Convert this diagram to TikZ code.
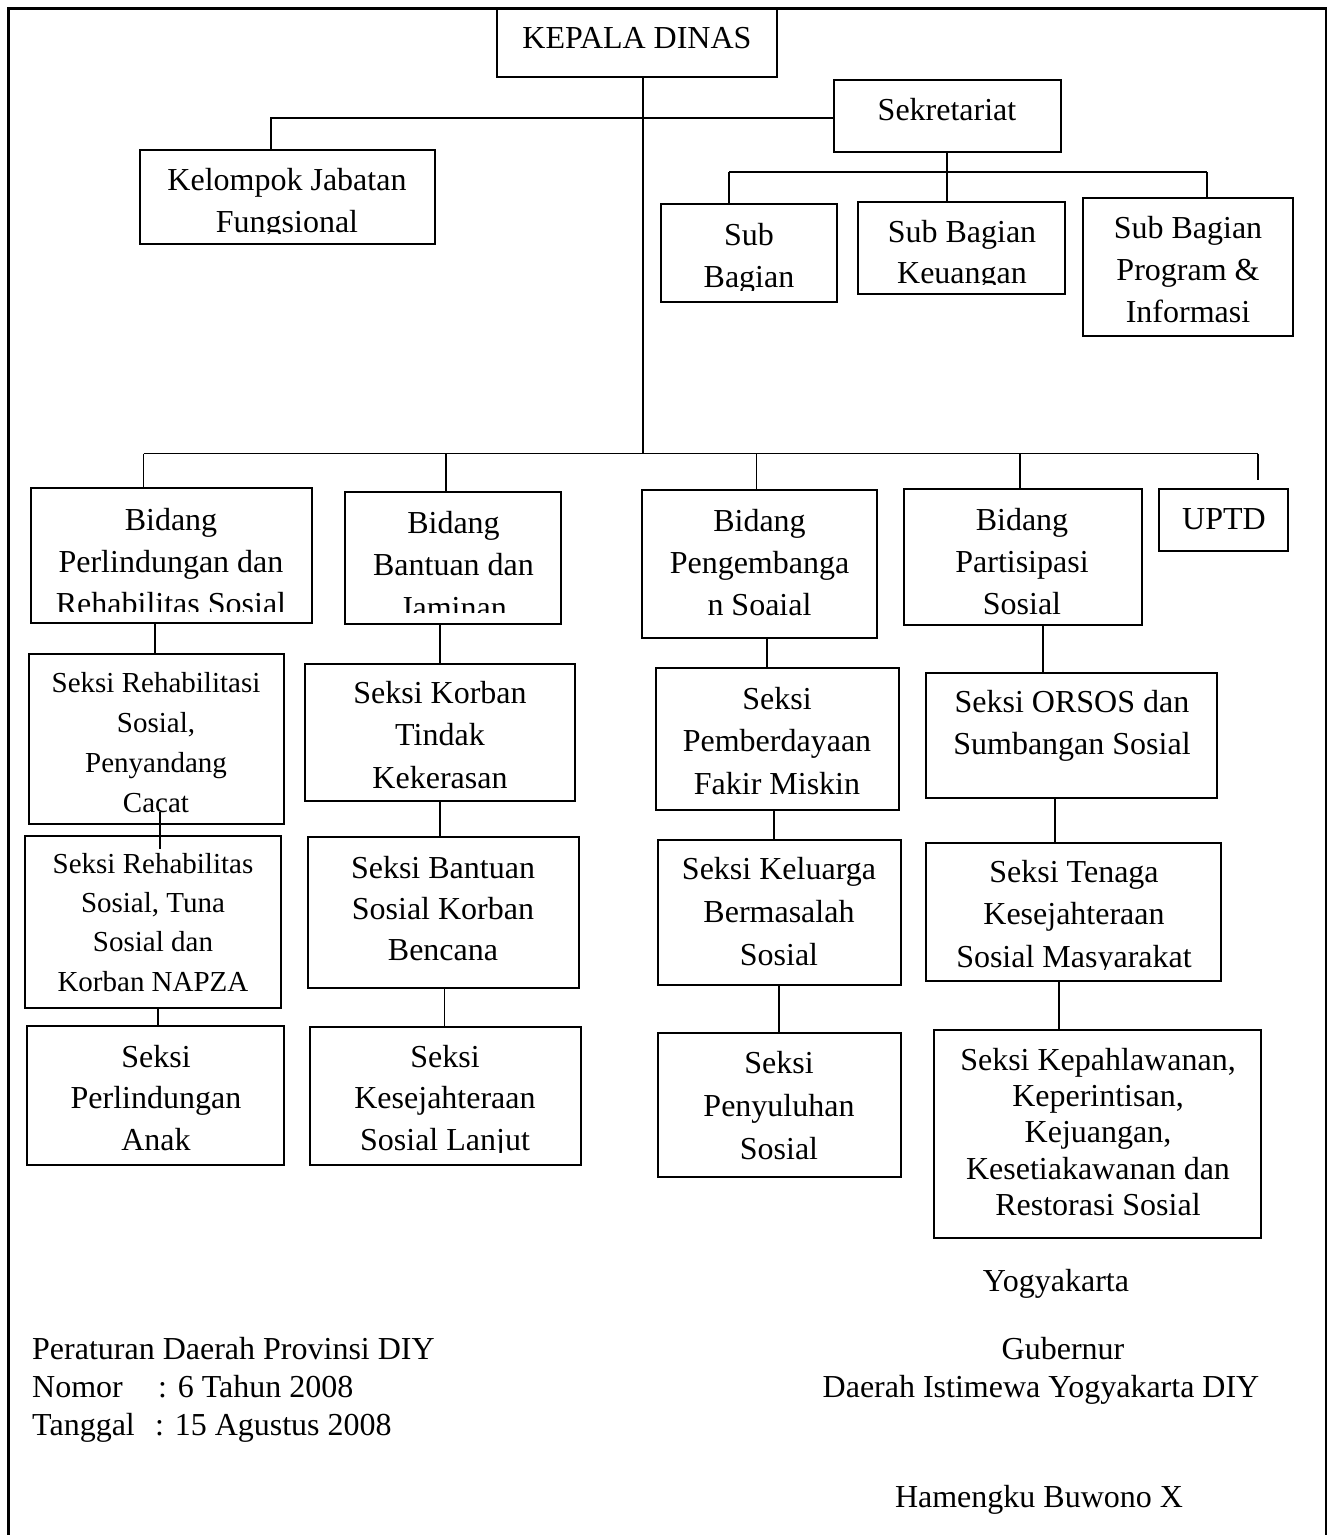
\documentclass[tikz,border=0pt]{standalone}
\usepackage{fontspec}
\setmainfont{Liberation Serif}
\tikzset{
  box/.style={draw, line width=2.8pt, inner sep=0pt, rectangle},
  conn/.style={line width=1.3pt},
  frame/.style={line width=2.8pt},
  txt/.style={inner sep=0pt, align=center, anchor=north},
  plainl/.style={inner sep=0pt, anchor=base west, font=\fontsize{32}{37.5}\selectfont},
  plainc/.style={inner sep=0pt, anchor=base, font=\fontsize{32}{37.5}\selectfont},
}
\newcommand\orgbox[5]{%
  \pgfmathsetmacro\obw{#4-#2}\pgfmathsetmacro\obh{#5-#3}%
  \pgfmathsetmacro\obx{(#2+#4)/2}\pgfmathsetmacro\oby{(#3+#5)/2}%
  \node[box, minimum width=\obw pt, minimum height=\obh pt] (#1) at (\obx,\oby) {};}
\newcommand\orgtext[6]{%
  \pgfmathsetmacro\oty{#3-0.8*#4}%
  \node[txt, font=\fontsize{#4}{#5}\selectfont] (#1) at (#2,\oty) {\rule{0pt}{0.8em}#6};}
\begin{document}
\begin{tikzpicture}[x=1pt,y=-1pt]
\useasboundingbox (0,0) rectangle (1328,1535);
\fill[white] (0,0) rectangle (1328,1535);
% outer frame (open at the bottom)
\draw[frame] (8.5,1540) -- (8.5,8.5) -- (1326,8.5) -- (1326,1540);

% ---------- boxes ----------
\orgbox{kep}{497}{8.5}{777}{77}
\orgbox{kjf}{140}{150}{435}{244}
\orgbox{sek}{834}{80}{1061}{152}
\orgbox{sb1}{661}{204}{837}{302}
\orgbox{sb2}{858}{202}{1065}{294}
\orgbox{sb3}{1083}{198}{1293}{336}
\orgbox{b1}{31}{488}{312}{623}
\orgbox{b2}{345}{492}{561}{624}
\orgbox{b3}{642}{490}{877}{638}
\orgbox{b4}{904}{489}{1142}{625}
\orgbox{uptd}{1159}{489}{1288}{551}
\orgbox{s11}{29}{654}{284}{824}
\orgbox{s12}{25}{836}{281}{1008}
\orgbox{s13}{27}{1026}{284}{1165}
\orgbox{s21}{305}{664}{575}{801}
\orgbox{s22}{308}{837}{579}{988}
\orgbox{s23}{310}{1027}{581}{1165}
\orgbox{s31}{656}{668}{899}{810}
\orgbox{s32}{658}{840}{901}{985}
\orgbox{s33}{658}{1033}{901}{1177}
\orgbox{s41}{926}{673}{1217}{798}
\orgbox{s42}{926}{843}{1221}{981}
\orgbox{s43}{934}{1030}{1261}{1238}

% ---------- texts ----------
\orgtext{kepT}{637}{48}{32}{42}{KEPALA DINAS}
\begin{scope}
\clip (140,150) rectangle (435,233.5);
\orgtext{kjfT}{287}{190}{32}{42}{Kelompok Jabatan\\Fungsional}
\end{scope}
\orgtext{sekT}{947}{120}{32}{42}{Sekretariat}
\begin{scope}
\clip (661,204) rectangle (837,290);
\orgtext{sb1T}{749}{245}{32}{42}{Sub\\Bagian}
\end{scope}
\begin{scope}
\clip (858,202) rectangle (1065,284);
\orgtext{sb2T}{962}{242}{32}{41}{Sub Bagian\\Keuangan}
\end{scope}
\orgtext{sb3T}{1188}{238}{32}{42}{Sub Bagian\\Program \&\\Informasi}
\begin{scope}
\clip (31,488) rectangle (312,611);
\orgtext{b1T}{171}{530}{32}{42}{Bidang\\Perlindungan dan\\Rehabilitas Sosial}
\end{scope}
\begin{scope}
\clip (345,492) rectangle (561,612.5);
\orgtext{b2T}{453.5}{533}{32}{42.5}{Bidang\\Bantuan dan\\Jaminan}
\end{scope}
\orgtext{b3T}{759.5}{531}{32}{42}{Bidang\\Pengembanga\\n Soaial}
\orgtext{b4T}{1022}{530}{32}{42}{Bidang\\Partisipasi\\Sosial}
\orgtext{uptdT}{1224}{529}{32}{42}{UPTD}
\orgtext{s11T}{156}{692}{29}{40}{Seksi Rehabilitasi\\Sosial,\\Penyandang\\Cacat}
\orgtext{s12T}{153}{873}{29}{39.3}{Seksi Rehabilitas\\Sosial, Tuna\\Sosial dan\\Korban NAPZA}
\orgtext{s13T}{156}{1067}{32}{41.5}{Seksi\\Perlindungan\\Anak}
\orgtext{s21T}{440}{703}{32}{42.5}{Seksi Korban\\Tindak\\Kekerasan}
\orgtext{s22T}{443}{878}{32}{41}{Seksi Bantuan\\Sosial Korban\\Bencana}
\begin{scope}
\clip (310,1027) rectangle (581,1152);
\orgtext{s23T}{445}{1067}{32}{41.5}{Seksi\\Kesejahteraan\\Sosial Lanjut}
\end{scope}
\orgtext{s31T}{777}{709}{32}{42.5}{Seksi\\Pemberdayaan\\Fakir Miskin}
\orgtext{s32T}{779}{879}{32}{43}{Seksi Keluarga\\Bermasalah\\Sosial}
\orgtext{s33T}{779}{1073}{32}{43}{Seksi\\Penyuluhan\\Sosial}
\orgtext{s41T}{1072}{712}{32}{42}{Seksi ORSOS dan\\Sumbangan Sosial}
\begin{scope}
\clip (926,843) rectangle (1221,969);
\orgtext{s42T}{1074}{882}{32}{42.5}{Seksi Tenaga\\Kesejahteraan\\Sosial Masyarakat}
\end{scope}
\orgtext{s43T}{1098}{1070}{32}{36.3}{Seksi Kepahlawanan,\\Keperintisan,\\Kejuangan,\\Kesetiakawanan dan\\Restorasi Sosial}

% ---------- junction coordinates ----------
\coordinate (jtr) at (643,453.5);
\coordinate (jbL) at (143.5,453.5);
\coordinate (jbR) at (1258,453.5);
\coordinate (jb2) at (446,453.5);
\coordinate (jb3) at (756.5,453.5);
\coordinate (jb4) at (1020,453.5);
\coordinate (jk) at (271,118);
\coordinate (js) at (947,172);
\coordinate (js1) at (729,172);
\coordinate (js3) at (1207,172);
\coordinate (xa1) at (155,0);
\coordinate (ja) at (160,812);
\coordinate (jb) at (160,849);
\coordinate (xa3) at (158,0);
\coordinate (xb1) at (440,0);
\coordinate (xb3) at (444.5,0);
\coordinate (xc1) at (767,0);
\coordinate (xc2) at (774,0);
\coordinate (xc3) at (779,0);
\coordinate (xd1) at (1043,0);
\coordinate (xd2) at (1055,0);
\coordinate (xd3) at (1059,0);

% ---------- connectors ----------
\draw[conn] (kep.south -| jtr) -- (jtr);
\draw[conn] (kjf.north -| jk) -- (jk) -- (jk -| sek.west);
\draw[conn] (sek.south -| js) -- (sb2.north -| js);
\draw[conn] (js1) -- (js3);
\draw[conn] (js1) -- (sb1.north -| js1);
\draw[conn] (js3) -- (sb3.north -| js3);
\draw[conn] (jbL) -- (jbR);
\draw[conn] (jbL) -- (b1.north -| jbL);
\draw[conn] (jb2) -- (b2.north -| jb2);
\draw[conn] (jb3) -- (b3.north -| jb3);
\draw[conn] (jb4) -- (b4.north -| jb4);
\draw[conn, shorten >=8pt] (jbR) -- (uptd.north -| jbR);

\draw[conn] (b1.south -| xa1) -- (s11.north -| xa1);
\draw[conn] (ja) -- (jb);
\draw[conn] (s12.south -| xa3) -- (s13.north -| xa3);
\draw[conn] (b2.south -| xb1) -- (s21.north -| xb1);
\draw[conn] (s21.south -| xb1) -- (s22.north -| xb1);
\draw[conn] (s22.south -| xb3) -- (s23.north -| xb3);
\draw[conn] (b3.south -| xc1) -- (s31.north -| xc1);
\draw[conn] (s31.south -| xc2) -- (s32.north -| xc2);
\draw[conn] (s32.south -| xc3) -- (s33.north -| xc3);
\draw[conn] (b4.south -| xd1) -- (s41.north -| xd1);
\draw[conn] (s41.south -| xd2) -- (s42.north -| xd2);
\draw[conn] (s42.south -| xd3) -- (s43.north -| xd3);

% ---------- footer ----------
\node[plainc] (yog) at (1056,1291) {Yogyakarta};
\node[plainl] (perda) at (32,1359.5) {Peraturan Daerah Provinsi DIY};
\node[plainl] (nomor) at (32,1397.5) {Nomor};
\node[plainl] (nomorv) at (158,1397.5) {: 6 Tahun 2008};
\node[plainl] (tgl) at (32,1435) {Tanggal};
\node[plainl] (tglv) at (155,1435) {: 15 Agustus 2008};
\node[plainc] (gub) at (1063,1359.5) {Gubernur};
\node[plainc] (diy) at (1041,1397.5) {Daerah Istimewa Yogyakarta DIY};
\node[plainc] (hb) at (1039,1507) {Hamengku Buwono X};
\end{tikzpicture}
\end{document}
